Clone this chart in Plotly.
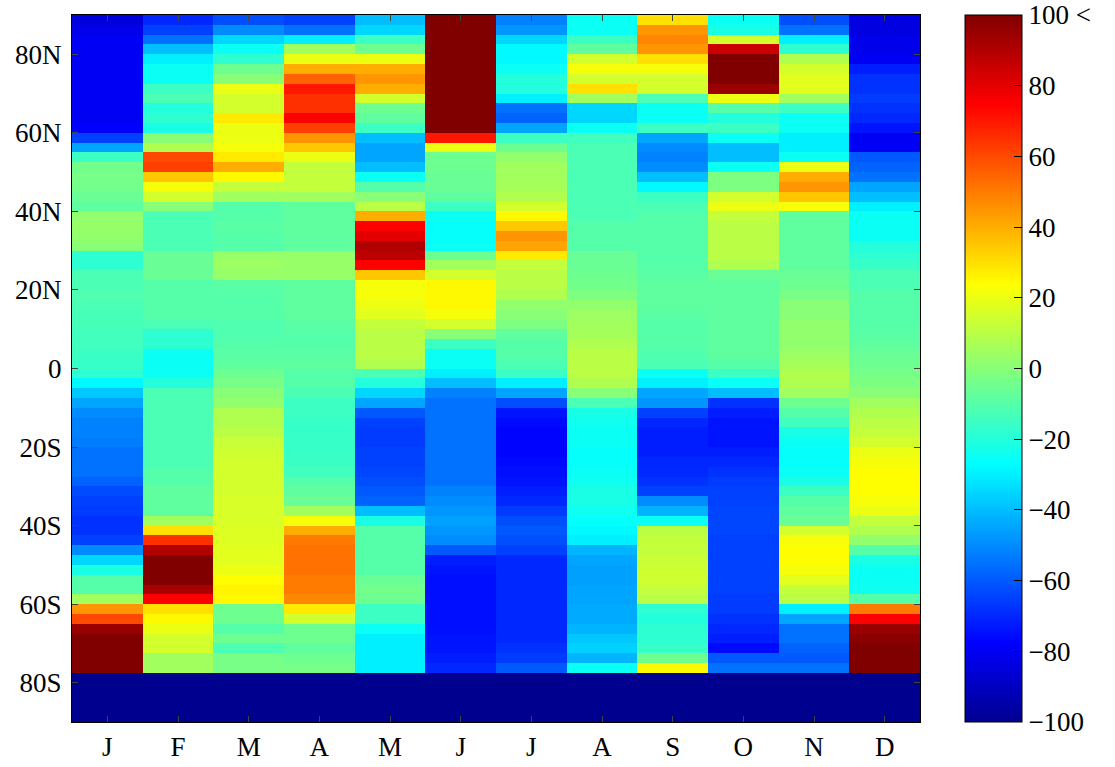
import numpy as np
import plotly.graph_objects as go

month_labels = ["J", "F", "M", "A", "M", "J", "J", "A", "S", "O", "N", "D"]

# values per 2.5-degree latitude band, listed from 90N down to 77.5S
Jan = [-85,-82,-80,-80,-80,-80,-80,-80,-80,-80,-80,-78, -65,-45,-15, -4,-3,-4,-6,-8, 2,3,2,0, -18,-18,
       -12,-12,-11,-12,-13,-13,-14,-14,-15,-16, -18,-28,-38,-45, -50,-52,-52,-53,-55,-55,-55,-58,
       -63,-65,-66,-68,-68,-65, -50,-35,-22, -10,-10, 5,45,60, 95,100,100,100,100]
Feb = [-70,-65,-55,-40,-30,-25,-25,-15,-12,-20,-18,-22, 0,8,60,62,35,22,15,0, -12,-12,-12,-12, -6,-6,-6,
       -10,-10,-10,-10,-12, -18,-18,-25,-25, -25,-20, -12,-12,-12,-12,-12,-12,-12,-12,-10,-10,
       -8,-8,-8, 5,30,65,90, 100,100,100, 92,75, 30,25,20,15,15,5,5]
Mar = [-62,-50,-35,-25,-18,-5,0,20,15,15,28,20, 20,22,28,40,25,12,5, -10,-10,-9,-10,-10, 3,4,3,
       -9,-10,-10,-10,-11,-11,-10,-9,-8, -5,-3,0,2, 8,8,10, 13,14,15,15,15,15,16,16,16,17,17,18,18,
       20,24,26,25, -5,-5,-10,-5,-12,-3,-3]
Apr = [-65,-55,-30,5,20,40,55,70,65,65,75,62, 45,35,20,12,12,12,5, -8,-8,-8,-8,-8, 3,3,3,
       -8,-8,-8,-8,-9,-10,-10,-9,-8, -10,-10,-12, -15,-15,-16,-16,-16,-16,-15,-14, -10,-8,-6,
       5,22,40, 50,52,52,52,50,50,48, 28,15, -5,-5,-8,-5,-3]
May = [-40,-35,-15,-5,20,40,45,40,15,-5,-8,-15, -40,-45,-45,-40,-25,-10,0,10, 40,75,80,90,88,75,35,
       22,22,20,18, 12,10,10,10,8, -12,-20,-35,-45, -60,-65,-66,-66,-65,-65,-64,-62,-60,
       -58,-40,-22, -10,-10,-10,-10,-10,-6,-4, -5,-15,-15,-25,-30,-30,-30,-30]
Jun = [100,100,100,100,100,100,100,100,100,100,100,100, 70,20,-5,-5,-6,-6,-8, -15,-25,-26,-26,-25,
       -5,5,15,25,25,25,22, 15,0,-15,-25,-25, -30,-40, -52,-55,-55,-55,-55,-55,-55,-55,-55,-55,-52,-50,-48,
       -46,-48,-50, -60, -72,-74,-75,-75,-75,-75,-75,-75,-74,-74,-72,-70]
Jul = [-52,-48,-35,-28,-28,-25,-20,-20,-30,-55,-58,-45, -15,-5,2,5,5,6,8, 15,25,35,45,42,28,
       12,10,10,8, 2,0,-2, -8,-10,-10,-12, -15,-30,-45,-62, -74,-76,-77,-77,-77,-76,-75,-74,-72,-70,-66,
       -62,-60,-62,-65, -70,-70,-70,-70,-70,-70,-70,-70,-70,-68,-66,-60]
Aug = [-25,-25,-15,-8,15,22,15,30,5,-35,-35,-25, -14,-12,-12,-12,-12,-12,-12,-12,-12,-10,-10,-10,
       -6,-6,-5,-4,-2, 2,4,5,6,8,10,10, 10,8,0,-12, -22,-24,-25,-25,-26,-26,-25,-24,-22,-22,-24,-26,-28,
       -30, -42,-45,-46,-46,-45,-45,-44,-44,-42, -38,-36,-42,-25]
Sep = [30,45,48,45,30,22,15,15,-12,-25,-25,-15, -45,-50,-52,-50, -40,-28,
       -15,-12,-10,-10,-10,-10,-10,-10,-9,-8,-8,-8,-9,-10,-10,-10,-11,-12, -25,-30,-45,-48,
       -65,-70,-72,-72,-72,-70,-70,-68, -65,-50,-42,-25, 10,12,12,13,14,14,12,10,
       -18,-20,-18,-18,-16,-5,25]
Oct = [-25,-22,15,85,100,100,100,95,20,-10,-20,-15, -25,-40,-40,-25,-2,-2,15,20, 12,10,10,10,10,8,
       -6,-8,-8,-8,-8,-8,-8,-8,-8,-10, -15,-25,-40, -68,-72,-74,-74,-74,-72,-70,-68,-66,
       -65,-65,-64,-64,-64,-65,-65,-65,-65,-65,-65,-66,-66,-68,-70,-72, -76,-60,-55]
Nov = [-62,-55,-30,-18,8,15,18,18,5,-15,-25,-25, -30,-30,-25,20,40,45,35,22,
       -8,-8,-8,-8,-8,-8,-6,-5,-3, 0,0,2,2,2,4,6, 8,8,5, -5,-10,-14, -22,-25,-26,-26,-25,-22,
       -15,-10,-8,-6, 15,22,24,24,22,18, 12,10, -30,-45,-55,-55,-58,-60,-55]
Dec = [-84,-84,-82,-82,-80,-72,-68,-68,-66,-68,-70,-74, -80,-80,-60,-58,-55,-45,-40,
       -30,-25,-25,-25, -20,-18,-16, -12,-12,-10,-10,-10,-10,-9,-8,-6,-5,
       -3,-2,0, 5,8,10,12,15, 20,22,24,24,24,22,20, 12,8,2, -10, -22,-25,-25,-24, -10,
       50,75, 95,98,100,100,100]
# polar cap band (90S - 77.5S), no data -> minimum colour
south_cap = [-100, -100, -100, -100, -100, -100, -100, -100, -100, -100, -100, -100]

y_ticks = [-80, -60, -40, -20, 0, 20, 40, 60, 80]
y_ticktext = ["80S", "60S", "40S", "20S", "0", "20N", "40N", "60N", "80N"]
cb_ticks = [-100, -80, -60, -40, -20, 0, 20, 40, 60, 80, 100]
cb_ticktext = ["\u2212100", "\u221280", "\u221260", "\u221240", "\u221220", "0", "20", "40", "60", "80", "100 <"]

columns = [Jan, Feb, Mar, Apr, May, Jun, Jul, Aug, Sep, Oct, Nov, Dec]
# rows south -> north
z = [south_cap] + [list(row) for row in zip(*[col[::-1] for col in columns])]
y_edges = [-90.0] + [float(v) for v in np.arange(-77.5, 90.01, 2.5)]
x_edges = [float(v) for v in np.arange(-0.5, 12, 1.0)]

jet = [[0.0, "rgb(0,0,143)"], [0.111, "rgb(0,0,255)"], [0.365, "rgb(0,255,255)"],
       [0.619, "rgb(255,255,0)"], [0.873, "rgb(255,0,0)"], [1.0, "rgb(128,0,0)"]]

font = dict(family="Liberation Serif", size=27, color="black")

fig = go.Figure(go.Heatmap(
    z=z, x=x_edges, y=y_edges, colorscale=jet, zmin=-100, zmax=100,
    colorbar=dict(
        x=1.053, xanchor="left", xpad=0, y=0.5, yanchor="middle", len=1.0, lenmode="fraction",
        thickness=57, thicknessmode="pixels", outlinecolor="black", outlinewidth=1,
        tickvals=cb_ticks, ticktext=cb_ticktext, ticks="inside", ticklen=8, tickcolor="black",
        tickfont=font, ypad=0, ticklabeloverflow="allow",
    ),
))

fig.update_layout(
    width=1115, height=767,
    margin=dict(l=72, r=195, t=15, b=45, autoexpand=False),
    paper_bgcolor="white", plot_bgcolor="white",
    font=font,
)
fig.update_xaxes(range=[-0.5, 11.5], tickvals=list(range(12)), ticktext=month_labels,
                 ticks="inside", ticklen=6, showline=True, linecolor="black", mirror="ticks",
                 showgrid=False, zeroline=False, tickfont=font, ticklabelstandoff=1,
                 automargin=False)
fig.update_yaxes(range=[-90, 90], tickvals=y_ticks, ticktext=y_ticktext,
                 ticks="inside", ticklen=6, showline=True, linecolor="black", mirror="ticks",
                 showgrid=False, zeroline=False, tickfont=font, ticklabelstandoff=4,
                 automargin=False)

# remove the page's default 8px body margin so the figure sits at the window origin
fig.write_html("out.html", config={"displayModeBar": False},
               post_script="document.body.style.margin='0px';")
